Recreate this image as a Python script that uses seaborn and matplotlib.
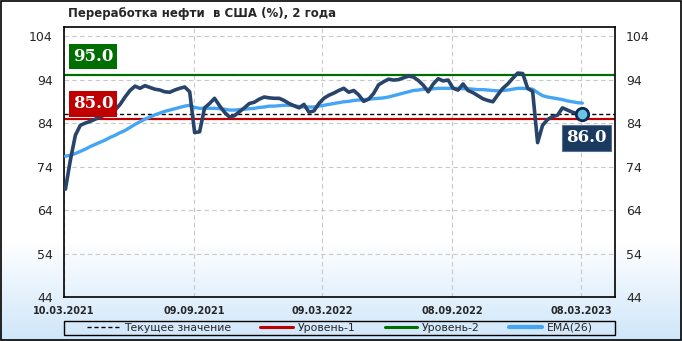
import numpy as np
import pandas as pd
import matplotlib
matplotlib.use("Agg")
import matplotlib.pyplot as plt
from matplotlib.lines import Line2D
import seaborn as sns

sns.set_theme(style="white")
plt.rcParams['font.family'] = ['DejaVu Sans']

title = "Переработка нефти  в США (%), 2 года"
start_date = "2021-03-12"
n_weeks = 105

values = [68.8, 75.5, 81.2, 83.5, 84.0, 84.4, 84.9, 85.4, 85.9, 86.3,
          87.0, 88.3, 90.0, 91.5, 92.5, 92.0, 92.6, 92.2, 91.8, 91.6,
          91.2, 91.1, 91.6, 92.0, 92.3, 91.2, 81.8, 82.0, 87.5, 88.5,
          89.7, 88.0, 86.5, 85.4, 85.7, 86.6, 87.5, 88.5, 88.8, 89.5,
          90.0, 89.8, 89.7, 89.7, 89.2, 88.5, 88.0, 87.5, 88.3, 86.5,
          86.8, 88.5, 89.7, 90.4, 90.9, 91.5, 92.0, 91.1, 91.5, 90.5,
          89.0, 89.5, 90.8, 92.8, 93.5, 94.1, 93.9, 94.0, 94.4, 94.8,
          94.6, 93.8, 92.7, 91.2, 93.0, 94.2, 93.7, 93.9, 92.0, 91.6,
          93.0, 91.5, 91.0, 90.3, 89.6, 89.2, 88.9, 90.5, 92.0, 93.0,
          94.3, 95.5, 95.4, 92.0, 91.3, 79.5, 83.5, 84.8, 85.5, 85.8,
          87.5, 87.0, 86.5, 86.2, 86.0]

ema26 = [76.4, 76.6, 77.0, 77.5, 78.0, 78.6, 79.1, 79.6, 80.1, 80.7,
         81.2, 81.8, 82.3, 83.0, 83.7, 84.3, 84.9, 85.4, 85.9, 86.3,
         86.7, 87.0, 87.3, 87.6, 87.9, 88.1, 87.6, 87.4, 87.4, 87.4,
         87.4, 87.3, 87.2, 87.0, 87.0, 87.1, 87.2, 87.3, 87.4, 87.6,
         87.7, 87.9, 87.9, 88.0, 88.1, 88.1, 88.0, 87.8, 87.7, 87.7,
         87.7, 87.9, 88.1, 88.3, 88.5, 88.7, 88.9, 89.0, 89.2, 89.3,
         89.4, 89.5, 89.6, 89.7, 89.8, 90.0, 90.3, 90.6, 90.9, 91.2,
         91.5, 91.6, 91.8, 91.8, 91.9, 92.0, 92.0, 92.0, 92.0, 92.0,
         91.9, 91.9, 91.8, 91.7, 91.7, 91.6, 91.5, 91.4, 91.5, 91.6,
         91.8, 92.0, 92.0, 91.9, 91.8, 91.0, 90.3, 90.0, 89.8, 89.6,
         89.4, 89.1, 88.9, 88.7, 88.6]

level1 = 85.0
level2 = 95.0
current = 86.0
y_ticks = [44, 54, 64, 74, 84, 94, 104]
x_tick_labels = ["10.03.2021", "09.09.2021", "09.03.2022", "08.09.2022", "08.03.2023"]
legend_labels = ["Текущее значение", "Уровень-1", "Уровень-2", "EMA(26)"]

dates = pd.date_range(start_date, periods=n_weeks, freq="7D")
df = pd.DataFrame({"date": dates, "value": values, "ema": ema26})

c_main = "#28446a"
c_ema = "#45a5f5"
c_red = "#c00000"
c_green = "#006e00"
c_box = "#1a3a60"

W, H = 682, 341
fig = plt.figure(figsize=(W / 100, H / 100), dpi=100)

# background gradient
bg = fig.add_axes([0, 0, 1, 1], zorder=-10)
grad = np.ones((H, 1, 3))
top_c = np.array([1.0, 1.0, 1.0])
bot_c = np.array([0.81, 0.90, 0.98])
for r in range(H):
    t = (r - 240) / (H - 240)
    t = min(max(t, 0), 1)
    grad[r, 0] = top_c * (1 - t) + bot_c * t
bg.imshow(grad, aspect="auto", extent=[0, 1, 0, 1], origin="upper")
bg.set_axis_off()
fig.patches.append(plt.Rectangle((0.001, 0.002), 0.997, 0.995, transform=fig.transFigure,
                                 fill=False, edgecolor="black", linewidth=1.2))

L, R, T, B = 64, 615, 27, 297
ax = fig.add_axes([L / W, (H - B) / H, (R - L) / W, (B - T) / H])
ax.set_facecolor("none")

ax.axhline(current, color="black", linestyle=(0, (3, 2)), linewidth=1.0, zorder=2)
ax.axhline(level1, color=c_red, linewidth=1.6, zorder=2)
ax.axhline(level2, color=c_green, linewidth=1.6, zorder=2)

sns.lineplot(data=df, x="date", y="ema", ax=ax, color=c_ema, linewidth=2.4, zorder=3)
sns.lineplot(data=df, x="date", y="value", ax=ax, color=c_main, linewidth=2.6, zorder=4)
ax.scatter(df["date"].iloc[-1], df["value"].iloc[-1], s=80, facecolor="#6cc4e4",
           edgecolor="#0d2a55", linewidth=2.0, zorder=5)

ax.set_xlim(pd.Timestamp("2021-03-10"), pd.Timestamp("2023-04-25"))
ax.set_ylim(44, 106.1)
ax.set_yticks(y_ticks)
ax.set_yticklabels([str(v) for v in y_ticks], fontsize=9)
ax.tick_params(axis="y", which="both", labelleft=True, labelright=True, left=False, right=False,
               length=0, pad=8)
tick_dates = [pd.to_datetime(s, format="%d.%m.%Y") for s in x_tick_labels]
ax.set_xticks(tick_dates)
ax.set_xticklabels(x_tick_labels, fontsize=7, fontweight="bold")
ax.tick_params(axis="x", bottom=False, length=0, pad=6.5)
ax.set_xlabel("")
ax.set_ylabel("")
ax.grid(True, color="#c8c8c8", linestyle=(0, (4, 3)), linewidth=0.8)
for s in ax.spines.values():
    s.set_visible(True)
    s.set_color("black")
    s.set_linewidth(1.2)

# value labels
lab_font = dict(family="DejaVu Serif", fontweight="bold", fontsize=12, color="white")
ax.text(0.016, 99.3, f"{level2:.1f}", transform=ax.get_yaxis_transform(), ha="left", va="center",
        bbox=dict(boxstyle="square,pad=0.25", facecolor=c_green, edgecolor="none"), zorder=6, **lab_font)
ax.text(0.016, 88.4, f"{level1:.1f}", transform=ax.get_yaxis_transform(), ha="left", va="center",
        bbox=dict(boxstyle="square,pad=0.25", facecolor=c_red, edgecolor="none"), zorder=6, **lab_font)
ax.text(0.985, 80.6, f"{current:.1f}", transform=ax.get_yaxis_transform(), ha="right", va="center",
        bbox=dict(boxstyle="square,pad=0.25", facecolor=c_box, edgecolor="#5a7090", linewidth=0.8),
        zorder=6, **lab_font)

fig.text(68 / W, 1 - 14 / H, title, fontsize=8.5, fontweight="bold", ha="left", va="center")

# legend frame spanning plot width
fig.patches.append(plt.Rectangle((L / W, (H - 335) / H), (R - L) / W, 14 / H, transform=fig.transFigure,
                                 fill=False, edgecolor="black", linewidth=1.0))
handles = [Line2D([], [], color="black", linestyle=(0, (3, 2)), linewidth=1.0),
           Line2D([], [], color=c_red, linewidth=2.2),
           Line2D([], [], color=c_green, linewidth=2.2),
           Line2D([], [], color=c_ema, linewidth=3.0)]
leg = fig.legend(handles, legend_labels, ncol=4, loc="center",
                 bbox_to_anchor=((L + R) / 2 / W, (H - 328) / H),
                 fontsize=7.8, frameon=False, borderpad=0.0, handlelength=3.0,
                 handletextpad=0.45, columnspacing=2.7)

fig.savefig("out.png", dpi=100)
